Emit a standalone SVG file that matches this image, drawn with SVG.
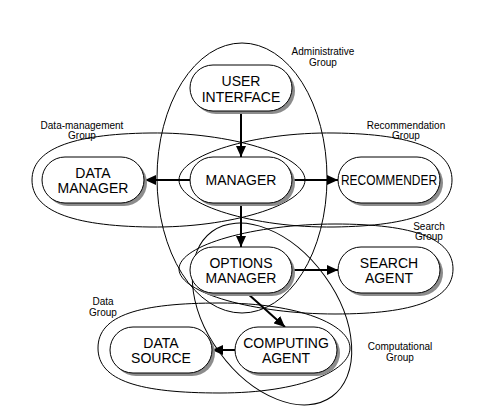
<svg xmlns="http://www.w3.org/2000/svg" width="500" height="417" viewBox="0 0 500 417">
<style>
.grp{fill:none;stroke:#000;stroke-width:1}
.glabel{font-family:"Liberation Sans",Arial,sans-serif;font-size:10px;fill:#000;text-anchor:middle}
.shadow{fill:#8c8c8c}
.box{fill:#fff;stroke:#000;stroke-width:1}
.nlabel{font-family:"Liberation Sans",Arial,sans-serif;font-size:14px;fill:#000;text-anchor:middle}
.conn{stroke:#000;stroke-width:2;fill:none;marker-end:url(#arr)}
</style>
<defs>
<marker id="arr" markerUnits="userSpaceOnUse" markerWidth="12" markerHeight="10" refX="11" refY="5" orient="auto">
<path d="M0,0 L11,5 L0,10 z" fill="#000"/>
</marker>
</defs>
<rect width="500" height="417" fill="#fff"/>
<g id="groups">
<ellipse id="administrative-group" class="grp" cx="242" cy="178" rx="85" ry="135"/>
<path id="data-management-group" class="grp" d="M32,180 C32,150 70,134 150,133 C230,132 305,155 305,180 C305,205 230,228 150,227 C70,226 32,210 32,180 Z"/>
<path id="recommendation-group" class="grp" d="M452,180 C452,150 414,134 334,133 C254,132 179,155 179,180 C179,205 254,228 334,227 C414,226 452,210 452,180 Z"/>
<path id="search-group" class="grp" d="M453,269 C453,239 415,224 335,224 C255,224 179,245 179,269 C179,293 255,314 335,314 C415,314 453,299 453,269 Z"/>
<path id="data-group" class="grp" d="M98,348 C98,315 140,303 220,303 C300,303 350,325 350,348 C350,371 300,393 220,393 C140,393 98,381 98,348 Z"/>
<ellipse id="computational-group" class="grp" cx="272" cy="314" rx="102" ry="65" transform="rotate(54 272 314)"/>
<text class="glabel" x="323" y="54.5">Administrative</text>
<text class="glabel" x="323" y="65.5">Group</text>
<text class="glabel" x="82" y="128.5">Data-management</text>
<text class="glabel" x="82" y="139">Group</text>
<text class="glabel" x="406" y="128.5">Recommendation</text>
<text class="glabel" x="406" y="139">Group</text>
<text class="glabel" x="429" y="229.5">Search</text>
<text class="glabel" x="429" y="240">Group</text>
<text class="glabel" x="103" y="305">Data</text>
<text class="glabel" x="103" y="315.5">Group</text>
<text class="glabel" x="400" y="350">Computational</text>
<text class="glabel" x="400" y="361">Group</text>
</g>
<g id="connectors">
<line class="conn" x1="241" y1="112" x2="241" y2="157"/>
<line class="conn" x1="190" y1="180" x2="145" y2="180"/>
<line class="conn" x1="293" y1="180" x2="338" y2="180"/>
<line class="conn" x1="241" y1="202" x2="241" y2="247"/>
<line class="conn" x1="292" y1="270" x2="338" y2="270"/>
<line class="conn" x1="247" y1="293" x2="285" y2="327"/>
<line class="conn" x1="235" y1="350" x2="212" y2="350"/>
</g>
<g id="user-interface">
<rect class="shadow" x="193" y="68" width="102" height="46" rx="23"/>
<rect class="box" x="190" y="65" width="102" height="46" rx="23"/>
<text class="nlabel" x="241" y="86">USER</text>
<text class="nlabel" x="241" y="101.5">INTERFACE</text>
</g>
<g id="manager">
<rect class="shadow" x="193" y="160" width="102" height="46" rx="23"/>
<rect class="box" x="190" y="157" width="102" height="46" rx="23"/>
<text class="nlabel" x="241" y="185">MANAGER</text>
</g>
<g id="data-manager">
<rect class="shadow" x="45" y="160" width="102" height="46" rx="23"/>
<rect class="box" x="42" y="157" width="102" height="46" rx="23"/>
<text class="nlabel" x="93" y="177.5">DATA</text>
<text class="nlabel" x="93" y="193">MANAGER</text>
</g>
<g id="recommender">
<rect class="shadow" x="341" y="160" width="102" height="46" rx="23"/>
<rect class="box" x="338" y="157" width="102" height="46" rx="23"/>
<text class="nlabel" x="389" y="185" textLength="96" lengthAdjust="spacingAndGlyphs">RECOMMENDER</text>
</g>
<g id="options-manager">
<rect class="shadow" x="193" y="250" width="102" height="46" rx="23"/>
<rect class="box" x="190" y="247" width="102" height="46" rx="23"/>
<text class="nlabel" x="241" y="267.5">OPTIONS</text>
<text class="nlabel" x="241" y="283">MANAGER</text>
</g>
<g id="search-agent">
<rect class="shadow" x="341" y="250" width="102" height="46" rx="23"/>
<rect class="box" x="338" y="247" width="102" height="46" rx="23"/>
<text class="nlabel" x="389" y="267.5">SEARCH</text>
<text class="nlabel" x="389" y="283">AGENT</text>
</g>
<g id="computing-agent">
<rect class="shadow" x="238" y="330" width="102" height="46" rx="23"/>
<rect class="box" x="235" y="327" width="102" height="46" rx="23"/>
<text class="nlabel" x="286" y="347.5">COMPUTING</text>
<text class="nlabel" x="286" y="363">AGENT</text>
</g>
<g id="data-source">
<rect class="shadow" x="113" y="330" width="102" height="46" rx="23"/>
<rect class="box" x="110" y="327" width="102" height="46" rx="23"/>
<text class="nlabel" x="161" y="347.5">DATA</text>
<text class="nlabel" x="161" y="363">SOURCE</text>
</g>
</svg>
